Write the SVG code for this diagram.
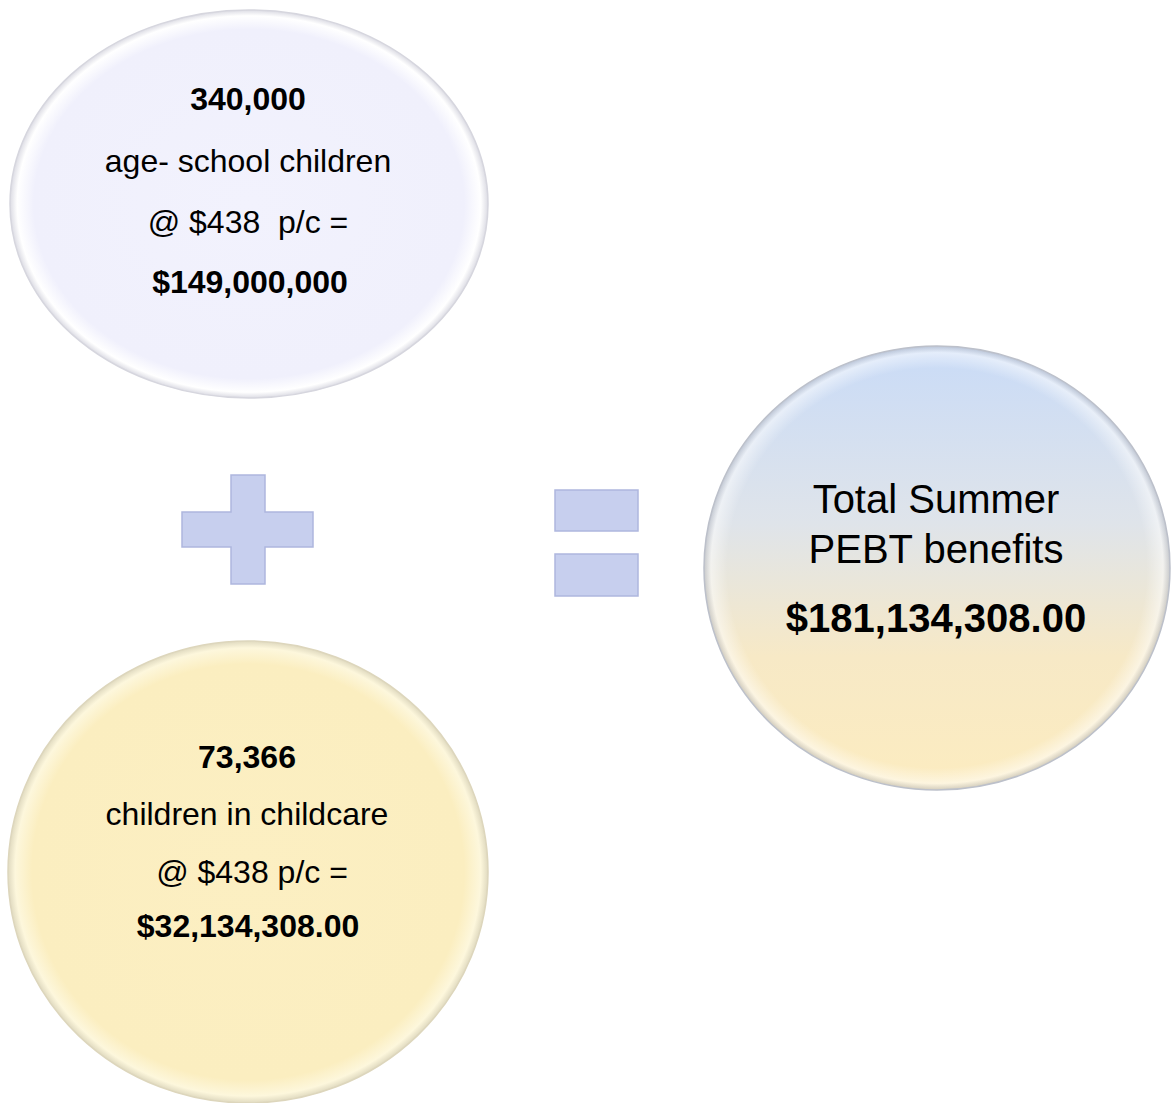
<svg xmlns="http://www.w3.org/2000/svg" width="1173" height="1103" viewBox="0 0 1173 1103">
<style>
  text { font-family: "Liberation Sans", Arial, sans-serif; fill: #000; text-anchor: middle; }
  .b { font-weight: bold; }
  .m { font-size: 32px; }
  .l { font-size: 40px; }
  .op { fill: #c7cfee; stroke: #aeb7de; stroke-width: 1.5; }
</style>
<defs>
  <radialGradient id="gTop" cx="0.5" cy="0.5" r="0.5">
    <stop offset="0" stop-color="#f2f2fd"/>
    <stop offset="0.9" stop-color="#f0f0fc"/>
    <stop offset="0.97" stop-color="#ffffff"/>
    <stop offset="1" stop-color="#dcdce4"/>
  </radialGradient>
  <radialGradient id="gBot" cx="0.5" cy="0.5" r="0.5">
    <stop offset="0" stop-color="#fcefc2"/>
    <stop offset="0.9" stop-color="#fbeec0"/>
    <stop offset="0.97" stop-color="#fdf7dc"/>
    <stop offset="1" stop-color="#e0dac0"/>
  </radialGradient>
  <linearGradient id="gRight" x1="0" y1="0" x2="0" y2="1">
    <stop offset="0" stop-color="#c9dbf7"/>
    <stop offset="0.4" stop-color="#dfe4ea"/>
    <stop offset="0.7" stop-color="#f7e9c6"/>
    <stop offset="1" stop-color="#fcecc0"/>
  </linearGradient>
  <radialGradient id="gRim" cx="0.5" cy="0.5" r="0.5">
    <stop offset="0" stop-color="#ffffff" stop-opacity="0"/>
    <stop offset="0.9" stop-color="#ffffff" stop-opacity="0"/>
    <stop offset="0.97" stop-color="#ffffff" stop-opacity="0.5"/>
    <stop offset="1" stop-color="#a9adb8" stop-opacity="0.5"/>
  </radialGradient>
</defs>

<g id="node-school">
  <ellipse cx="249" cy="204" rx="239" ry="194" fill="url(#gTop)" stroke="#d6d6de" stroke-width="1.5"/>
  <text class="m b" x="248" y="110">340,000</text>
  <text class="m" x="248" y="172">age- school children</text>
  <text class="m" x="248" y="233" xml:space="preserve">@ $438  p/c =</text>
  <text class="m b" x="250" y="293">$149,000,000</text>
</g>

<g id="node-childcare">
  <ellipse cx="248" cy="872" rx="240" ry="231" fill="url(#gBot)" stroke="#ddd6bc" stroke-width="1.5"/>
  <text class="m b" x="247" y="768">73,366</text>
  <text class="m" x="247" y="825">children in childcare</text>
  <text class="m" x="252" y="883">@ $438 p/c =</text>
  <text class="m b" x="248" y="937">$32,134,308.00</text>
</g>

<g id="node-total">
  <ellipse cx="937" cy="568" rx="233" ry="222" fill="url(#gRight)"/>
  <ellipse cx="937" cy="568" rx="233" ry="222" fill="url(#gRim)" stroke="#bcc0ca" stroke-width="1.5"/>
  <text class="l" x="936" y="513">Total Summer</text>
  <text class="l" x="936" y="563">PEBT benefits</text>
  <text class="l b" x="936" y="632">$181,134,308.00</text>
</g>

<g id="node-plus">
  <path class="op" d="M231 475 H265 V512 H313 V547 H265 V584 H231 V547 H182 V512 H231 Z"/>
</g>

<g id="node-equals">
  <rect class="op" x="555" y="490" width="83" height="41"/>
  <rect class="op" x="555" y="554" width="83" height="42"/>
</g>

<g id="connectors"></g>
</svg>
